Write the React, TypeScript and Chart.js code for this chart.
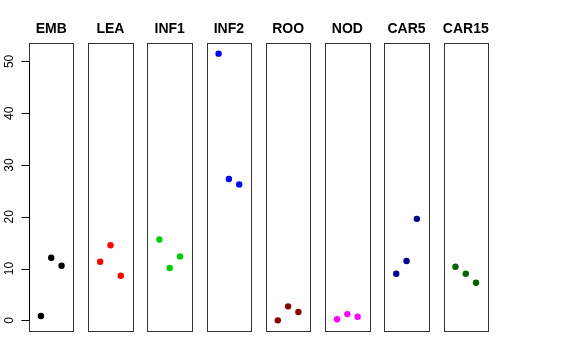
import { useEffect, useRef } from "react";
import { Chart, registerables } from "chart.js";

Chart.register(...registerables);

const categories = ["EMB", "LEA", "INF1", "INF2", "ROO", "NOD", "CAR5", "CAR15"];
const colors = ["#000000", "#FF0000", "#00CD00", "#0000FF", "#8B0000", "#FF00FF", "#00008B", "#006400"];

const EMB = [0.83, 12.08, 10.54];
const LEA = [11.3, 14.5, 8.6];
const INF1 = [15.6, 10.1, 12.35];
const INF2 = [51.5, 27.3, 26.25];
const ROO = [0.0, 2.7, 1.6];
const NOD = [0.2, 1.2, 0.7];
const CAR5 = [9.0, 11.45, 19.6];
const CAR15 = [10.35, 9.0, 7.26];

const seriesValues = [EMB, LEA, INF1, INF2, ROO, NOD, CAR5, CAR15];
const replicates = [1, 2, 3];
const yTicks = [0, 10, 20, 30, 40, 50];

// layout of panels in x units
const PANEL_STEP = 5.75;
const PANEL_MIN = -0.16;
const PANEL_MAX = 4.16;
const Y_MIN = -2.06;
const Y_MAX = 53.56;

const FONT = "'Liberation Sans', Arial, Helvetica, sans-serif";

const panelPlugin = {
  id: "panels",
  beforeDatasetsDraw(chart: any) {
    const { ctx, scales, chartArea } = chart;
    const x = scales.x;
    const t = Math.round(chartArea.top) + 0.5;
    const b = Math.round(chartArea.bottom) + 0.5;
    ctx.save();
    ctx.strokeStyle = "#333333";
    ctx.lineWidth = 1;
    categories.forEach((_, i) => {
      const l = Math.round(x.getPixelForValue(i * PANEL_STEP + PANEL_MIN)) + 0.5;
      const r = Math.round(x.getPixelForValue(i * PANEL_STEP + PANEL_MAX)) + 0.5;
      ctx.strokeRect(l, t, r - l, b - t);
    });
    ctx.restore();
  },
  afterDraw(chart: any) {
    const { ctx, scales } = chart;
    const x = scales.x;
    const y = scales.y;
    ctx.save();
    // titles
    ctx.fillStyle = "#000";
    ctx.font = `bold 14px ${FONT}`;
    ctx.textAlign = "center";
    ctx.textBaseline = "middle";
    categories.forEach((c, i) => {
      const cx = x.getPixelForValue(i * PANEL_STEP + (PANEL_MIN + PANEL_MAX) / 2);
      ctx.fillText(c, cx, 29);
    });
    // y axis
    const ax = Math.round(x.getPixelForValue(PANEL_MIN)) + 0.5;
    ctx.strokeStyle = "#000";
    ctx.lineWidth = 1;
    ctx.beginPath();
    ctx.moveTo(ax, Math.round(y.getPixelForValue(yTicks[0])) + 0.5);
    ctx.lineTo(ax, Math.round(y.getPixelForValue(yTicks[yTicks.length - 1])) + 0.5);
    yTicks.forEach((v) => {
      const py = Math.round(y.getPixelForValue(v)) + 0.5;
      ctx.moveTo(ax, py);
      ctx.lineTo(ax - 8, py);
    });
    ctx.stroke();
    ctx.font = `12px ${FONT}`;
    yTicks.forEach((v) => {
      const py = y.getPixelForValue(v);
      ctx.save();
      ctx.translate(10, py);
      ctx.rotate(-Math.PI / 2);
      ctx.fillText(String(v), 0, 0);
      ctx.restore();
    });
    ctx.restore();
  },
};

export default function App() {
  const ref = useRef<HTMLCanvasElement | null>(null);
  useEffect(() => {
    if (!ref.current) return;
    const datasets = categories.map((c, i) => ({
      label: c,
      data: seriesValues[i].map((v, j) => ({ x: i * PANEL_STEP + replicates[j], y: v })),
      backgroundColor: colors[i],
      borderColor: colors[i],
      pointRadius: 3.2,
      pointBorderWidth: 0,
      showLine: false,
      clip: false as any,
    }));
    const chart = new Chart(ref.current, {
      type: "scatter",
      data: { datasets },
      options: {
        animation: false,
        responsive: false,
        maintainAspectRatio: false,
        layout: { padding: { top: 43, right: 88, bottom: 29, left: 0 } },
        plugins: { legend: { display: false }, tooltip: { enabled: false }, title: { display: false } },
        scales: {
          x: {
            type: "linear",
            display: false,
            min: PANEL_MIN,
            max: 7 * PANEL_STEP + PANEL_MAX,
          },
          y: {
            type: "linear",
            min: Y_MIN,
            max: Y_MAX,
            grid: { display: false },
            border: { display: false },
            ticks: { display: false },
            afterFit: (scale: any) => {
              scale.width = 29;
            },
          },
        },
      },
      plugins: [panelPlugin],
    });
    return () => chart.destroy();
  }, []);
  return (
    <div style={{ position: "absolute", left: 0, top: 0, width: 576, height: 360, background: "#fff" }}>
      <canvas ref={ref} width={576} height={360} style={{ width: 576, height: 360 }} />
    </div>
  );
}
